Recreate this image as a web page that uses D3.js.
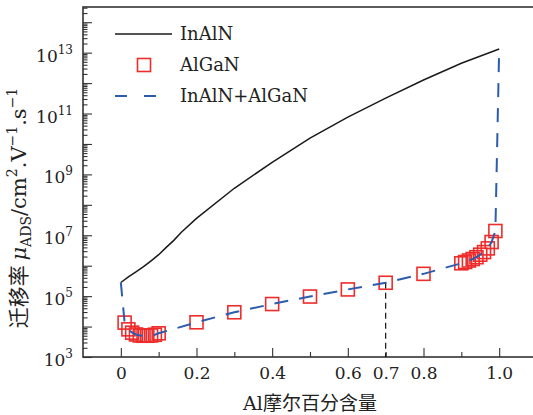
<!DOCTYPE html>
<html>
<head>
<meta charset="utf-8">
<script src="https://cdn.jsdelivr.net/npm/d3@7"></script>
<style>
  body { margin: 0; background: #fff; }
  svg { display: block; }
  text { font-family: "DejaVu Serif", serif; fill: #222; }
</style>
</head>
<body>
<svg id="chart" width="533" height="415"></svg>
<script>
// InAlN mobility vs Al fraction
const inalnAl = [0, 0.02, 0.04, 0.06, 0.08, 0.1, 0.12, 0.14, 0.16, 0.2, 0.3, 0.4, 0.5, 0.6, 0.7, 0.8, 0.9, 1.0];
const inalnMu = [2.8e5, 4.3e5, 6.3e5, 9.3e5, 1.45e6, 2.3e6, 4.0e6, 6.8e6, 1.26e7, 3.6e7, 3.5e8, 2.5e9, 1.55e10, 7.6e10, 3.2e11, 1.26e12, 4.5e12, 1.32e13];

// AlGaN squares
const algaNAl = [0.01, 0.02, 0.03, 0.04, 0.05, 0.06, 0.07, 0.08, 0.09, 0.1,
  0.2, 0.3, 0.4, 0.5, 0.6, 0.7, 0.8,
  0.9, 0.91, 0.92, 0.93, 0.94, 0.95, 0.96, 0.97, 0.98, 0.99];
const algaNMu = [1.35e4, 8.1e3, 6.3e3, 5.5e3, 5.1e3, 5.0e3, 5.0e3, 5.1e3, 5.4e3, 6.0e3,
  1.38e4, 2.95e4, 5.5e4, 9.7e4, 1.66e5, 2.75e5, 5.4e5,
  1.2e6, 1.32e6, 1.48e6, 1.66e6, 1.9e6, 2.3e6, 2.8e6, 3.7e6, 6.0e6, 1.38e7];

// InAlN+AlGaN: starts on InAlN, follows AlGaN, ends on InAlN
const comboAl = [0, ...algaNAl, 1.0];
const comboMu = [inalnMu[0], ...algaNMu, inalnMu[inalnMu.length - 1]];

const xMajor = [0, 0.2, 0.4, 0.6, 0.8, 1.0];
const xMinor = [0.1, 0.3, 0.5, 0.7, 0.9];
const yLabelExp = [3, 5, 7, 9, 11, 13];
const legendLabels = ['InAlN', 'AlGaN', 'InAlN+AlGaN'];
const markAl = 0.7;

const svg = d3.select('#chart');
const pl = 83, pr = 537, pt = 7, pb = 357;

const x = d3.scaleLinear().domain([-0.1, 1.1]).range([pl, pr]);
const y = d3.scaleLog().domain([1e3, Math.pow(10, 14.5)]).range([pb, pt]);

const axisColor = '#333';
const blue = '#2b5cae';
const red = '#ee2c2c';
const sq = 13;

// y ticks, inward
const yMajor = d3.range(3, 15).map(e => Math.pow(10, e));
const yMinor = [];
d3.range(3, 15).forEach(e => {
  for (let k = 2; k <= 9; k++) {
    const v = k * Math.pow(10, e);
    if (v <= y.domain()[1]) yMinor.push(v);
  }
});

function styleAxis(g) {
  g.select('.domain').remove();
  g.selectAll('line').attr('stroke', axisColor).attr('stroke-width', 1.1);
}

svg.append('g')
  .attr('transform', `translate(${pl},0)`)
  .call(d3.axisLeft(y).tickValues(yMajor).tickSize(-9).tickFormat(''))
  .call(styleAxis);

svg.append('g')
  .attr('transform', `translate(${pl},0)`)
  .call(d3.axisLeft(y).tickValues(yMinor).tickSize(-4.5).tickFormat(''))
  .call(styleAxis);

const yLab = svg.append('g').selectAll('text')
  .data(yLabelExp)
  .enter()
  .append('text')
  .attr('x', 73)
  .attr('y', d => y(Math.pow(10, d)) + 9)
  .attr('text-anchor', 'end')
  .style('font-size', '17px');
yLab.append('tspan').text('10');
yLab.append('tspan').attr('dy', -8).style('font-size', '12px').text(d => d);

// x ticks, inward
svg.append('g')
  .attr('transform', `translate(0,${pb})`)
  .call(d3.axisBottom(x).tickValues(xMajor).tickSize(-9).tickPadding(10)
    .tickFormat(d => d === 0 ? '0' : d3.format('.1f')(d)))
  .call(styleAxis);

svg.append('g')
  .attr('transform', `translate(0,${pb})`)
  .call(d3.axisBottom(x).tickValues(xMinor).tickSize(-5).tickPadding(10)
    .tickFormat(d => d === markAl ? '0.7' : ''))
  .call(styleAxis);

svg.selectAll('.tick text')
  .attr('fill', '#222')
  .style('font-family', '"DejaVu Serif", serif')
  .style('font-size', '17px');

// frame
svg.append('rect')
  .attr('x', pl).attr('y', pt)
  .attr('width', pr - pl).attr('height', pb - pt)
  .attr('fill', 'none')
  .attr('stroke', axisColor)
  .attr('stroke-width', 1.6);

// dashed marker at Al = 0.7
const markMu = algaNMu[algaNAl.indexOf(markAl)];
svg.append('line')
  .attr('x1', x(markAl)).attr('x2', x(markAl))
  .attr('y1', y(markMu)).attr('y2', pb)
  .attr('stroke', '#111')
  .attr('stroke-width', 1.2)
  .attr('stroke-dasharray', '6,4');

const line = d3.line()
  .x(d => x(d[0]))
  .y(d => y(d[1]));

svg.append('path')
  .datum(d3.zip(inalnAl, inalnMu))
  .attr('d', line)
  .attr('fill', 'none')
  .attr('stroke', '#1a1a1a')
  .attr('stroke-width', 1.5);

svg.append('g').selectAll('rect')
  .data(d3.zip(algaNAl, algaNMu))
  .enter()
  .append('rect')
  .attr('x', d => x(d[0]) - sq / 2)
  .attr('y', d => y(d[1]) - sq / 2)
  .attr('width', sq)
  .attr('height', sq)
  .attr('fill', 'none')
  .attr('stroke', red)
  .attr('stroke-width', 1.6);

svg.append('path')
  .datum(d3.zip(comboAl, comboMu))
  .attr('d', line)
  .attr('fill', 'none')
  .attr('stroke', blue)
  .attr('stroke-width', 2)
  .attr('stroke-dasharray', '14,11');

// legend
const legend = svg.append('g');
legend.append('line')
  .attr('x1', 115).attr('x2', 172).attr('y1', 34).attr('y2', 34)
  .attr('stroke', '#1a1a1a').attr('stroke-width', 1.5);
legend.append('rect')
  .attr('x', 144 - sq / 2).attr('y', 65 - sq / 2).attr('width', sq).attr('height', sq)
  .attr('fill', 'none').attr('stroke', red).attr('stroke-width', 1.6);
legend.append('line')
  .attr('x1', 115).attr('x2', 158).attr('y1', 96).attr('y2', 96)
  .attr('stroke', blue).attr('stroke-width', 2)
  .attr('stroke-dasharray', '12,17');
legend.selectAll('text')
  .data(legendLabels)
  .enter()
  .append('text')
  .attr('x', 180)
  .attr('y', (d, i) => 40 + i * 31)
  .style('font-size', '18px')
  .text(d => d);

// axis titles
svg.append('text')
  .attr('x', (pl + pr) / 2)
  .attr('y', 410)
  .attr('text-anchor', 'middle')
  .style('font-size', '19px')
  .html('Al<tspan style="font-family:\'Noto Sans CJK SC\'">摩尔百分含量</tspan>');

const yt = svg.append('text')
  .attr('transform', 'translate(26,208) rotate(-90)')
  .attr('text-anchor', 'middle')
  .style('font-size', '21px');
yt.append('tspan').style('font-family', '"Noto Sans CJK SC"').text('迁移率 ');
yt.append('tspan').style('font-style', 'italic').text('μ');
yt.append('tspan').attr('dy', 5).style('font-size', '14px').text('ADS');
yt.append('tspan').attr('dy', -5).text('/cm');
yt.append('tspan').attr('dy', -9).style('font-size', '14px').text('2');
yt.append('tspan').attr('dy', 9).text('.V');
yt.append('tspan').attr('dy', -9).style('font-size', '14px').text('−1');
yt.append('tspan').attr('dy', 9).text('.s');
yt.append('tspan').attr('dy', -9).style('font-size', '14px').text('−1');
</script>
</body>
</html>
